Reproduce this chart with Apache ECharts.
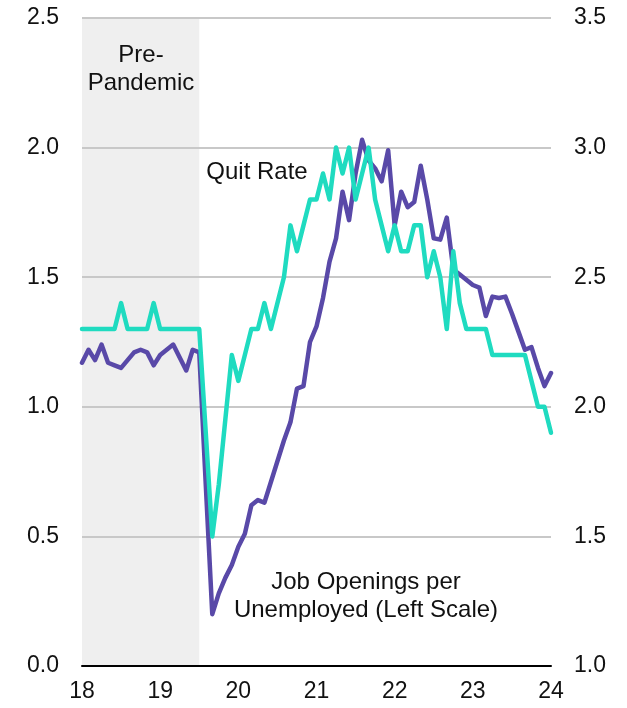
<!DOCTYPE html>
<html>
<head>
<meta charset="utf-8">
<script src="https://cdn.jsdelivr.net/npm/echarts@6/dist/echarts.min.js"></script>
<style>
html,body{margin:0;padding:0;background:#fff;}
#chart{width:627px;height:708px;}
</style>
</head>
<body>
<div id="chart"></div>
<script>
// Monthly observations starting at axis value 18 (one point per month)
const startYear = 18;
const xTickLabels = ['18', '19', '20', '21', '22', '23', '24'];
const leftTicks = ['0.0', '0.5', '1.0', '1.5', '2.0', '2.5'];
const rightTicks = ['1.0', '1.5', '2.0', '2.5', '3.0', '3.5'];

// Job openings per unemployed (left scale)
const jobOpeningsPerUnemployed = [
  1.17, 1.22, 1.18, 1.24, 1.17, 1.16, 1.15, 1.18, 1.21, 1.22, 1.21, 1.16,
  1.20, 1.22, 1.24, 1.19, 1.14, 1.22, 1.21, 0.70, 0.20, 0.28, 0.34, 0.39,
  0.46, 0.51, 0.62, 0.64, 0.63, 0.71, 0.79, 0.87, 0.94, 1.07, 1.08, 1.25,
  1.31, 1.42, 1.56, 1.65, 1.83, 1.72, 1.90, 2.03, 1.95, 1.92, 1.87, 1.99,
  1.70, 1.83, 1.77, 1.79, 1.93, 1.80, 1.65, 1.645, 1.73, 1.53, 1.51, 1.49,
  1.47, 1.46, 1.35, 1.425, 1.42, 1.425, 1.36, 1.29, 1.22, 1.23, 1.15, 1.08,
  1.13
];

// Quit rate (right scale)
const quitRate = [
  2.3, 2.3, 2.3, 2.3, 2.3, 2.3, 2.4, 2.3, 2.3, 2.3, 2.3, 2.4,
  2.3, 2.3, 2.3, 2.3, 2.3, 2.3, 2.3, 1.9, 1.5, 1.7, 1.95, 2.2,
  2.1, 2.2, 2.3, 2.3, 2.4, 2.3, 2.4, 2.5, 2.7, 2.6, 2.7, 2.8,
  2.8, 2.9, 2.8, 3.0, 2.9, 3.0, 2.8, 2.9, 3.0, 2.8, 2.7, 2.6,
  2.7, 2.6, 2.6, 2.7, 2.7, 2.5, 2.6, 2.5, 2.3, 2.6, 2.4, 2.3,
  2.3, 2.3, 2.3, 2.2, 2.2, 2.2, 2.2, 2.2, 2.2, 2.1, 2.0, 2.0,
  1.9
];

const prePandemic = [18, 19.5];

const toPoints = arr => arr.map((v, i) => [startYear + i / 12, v]);

const FONT = "'Liberation Sans', Arial, sans-serif";
const chart = echarts.init(document.getElementById('chart'), null, {renderer: 'canvas'});

chart.setOption({
  animation: false,
  backgroundColor: '#ffffff',
  grid: {left: 82, right: 76, top: 18, bottom: 42, containLabel: false},
  xAxis: {
    type: 'value', min: 18, max: 24, interval: 1, z: 2,
    axisLine: {show: true, lineStyle: {color: '#000', width: 2}},
    axisTick: {show: false},
    splitLine: {show: false},
    axisLabel: {
      margin: 14, fontSize: 23, color: '#111', fontFamily: FONT,
      formatter: v => xTickLabels[Math.round(v - 18)]
    }
  },
  yAxis: [
    {
      type: 'value', position: 'left', min: 0, max: 2.5, interval: 0.5, z: 2,
      axisLine: {show: false}, axisTick: {show: false},
      splitLine: {show: true, lineStyle: {color: '#c8c8c8', width: 2}},
      axisLabel: {margin: 23, fontSize: 23, color: '#111', fontFamily: FONT,
        formatter: v => leftTicks[Math.round(v / 0.5)]}
    },
    {
      type: 'value', position: 'right', min: 1, max: 3.5, interval: 0.5, z: 2,
      axisLine: {show: false}, axisTick: {show: false},
      splitLine: {show: false},
      axisLabel: {margin: 23, fontSize: 23, color: '#111', fontFamily: FONT,
        formatter: v => rightTicks[Math.round((v - 1) / 0.5)]}
    }
  ],
  series: [
    {
      type: 'line', name: 'shade', data: [], z: 1,
      markArea: {
        silent: true, z: 1,
        itemStyle: {color: '#efefef'},
        data: [[{xAxis: prePandemic[0]}, {xAxis: prePandemic[1]}]]
      }
    },
    {
      type: 'line', name: 'Job Openings per Unemployed', yAxisIndex: 0, z: 3,
      data: toPoints(jobOpeningsPerUnemployed),
      showSymbol: false, symbol: 'none',
      lineStyle: {color: '#5949a8', width: 4.5, join: 'round', cap: 'round'}
    },
    {
      type: 'line', name: 'Quit Rate', yAxisIndex: 1, z: 4,
      data: toPoints(quitRate),
      showSymbol: false, symbol: 'none',
      lineStyle: {color: '#1fdbc0', width: 4.5, join: 'round', cap: 'round'}
    }
  ],
  graphic: [
    {type: 'text', x: 141, y: 55, z: 10, style: {text: 'Pre-', font: '24px ' + FONT, fill: '#111', textAlign: 'center', textVerticalAlign: 'middle'}},
    {type: 'text', x: 141, y: 83, z: 10, style: {text: 'Pandemic', font: '24px ' + FONT, fill: '#111', textAlign: 'center', textVerticalAlign: 'middle'}},
    {type: 'text', x: 257, y: 172, z: 10, style: {text: 'Quit Rate', font: '24px ' + FONT, fill: '#111', textAlign: 'center', textVerticalAlign: 'middle'}},
    {type: 'text', x: 366, y: 582, z: 10, style: {text: 'Job Openings per', font: '24px ' + FONT, fill: '#111', textAlign: 'center', textVerticalAlign: 'middle'}},
    {type: 'text', x: 366, y: 610, z: 10, style: {text: 'Unemployed (Left Scale)', font: '24px ' + FONT, fill: '#111', textAlign: 'center', textVerticalAlign: 'middle'}}
  ]
});
</script>
</body>
</html>
